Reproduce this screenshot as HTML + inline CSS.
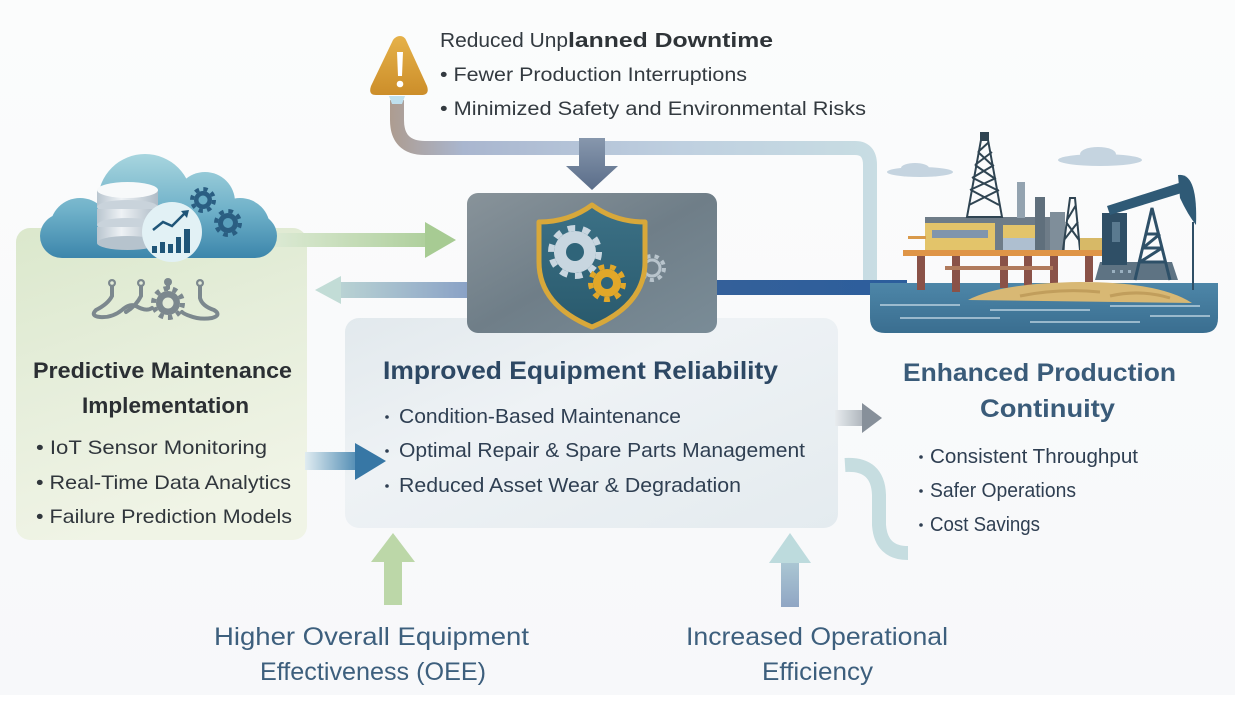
<!DOCTYPE html>
<html><head><meta charset="utf-8"><style>
html,body{margin:0;padding:0;background:#fafbfc;}
svg{display:block;}
text{font-family:"Liberation Sans",sans-serif;}
</style></head><body>
<svg width="1235" height="708" viewBox="0 0 1235 708" xmlns="http://www.w3.org/2000/svg">
<defs>
<linearGradient id="bg" x1="0" y1="0" x2="0" y2="1"><stop offset="0" stop-color="#fbfcfc"/><stop offset="1" stop-color="#f7f8fa"/></linearGradient>
<linearGradient id="green" x1="0" y1="0" x2="0.3" y2="1"><stop offset="0" stop-color="#dbe8cc"/><stop offset="0.5" stop-color="#e6eedb"/><stop offset="1" stop-color="#f0f4e6"/></linearGradient>
<linearGradient id="cloud" x1="0" y1="150" x2="0" y2="260" gradientUnits="userSpaceOnUse"><stop offset="0" stop-color="#acd8e0"/><stop offset="0.55" stop-color="#6fb1c9"/><stop offset="1" stop-color="#3a84aa"/></linearGradient>
<linearGradient id="mid" x1="0" y1="0" x2="1" y2="1"><stop offset="0" stop-color="#e2e9ed"/><stop offset="0.4" stop-color="#eef2f5"/><stop offset="1" stop-color="#e4ebef"/></linearGradient>
<linearGradient id="grayb" x1="0" y1="0" x2="1" y2="1"><stop offset="0" stop-color="#88939a"/><stop offset="0.5" stop-color="#6f7e88"/><stop offset="1" stop-color="#7a8c97"/></linearGradient>
<linearGradient id="shield" x1="0" y1="0" x2="0" y2="1"><stop offset="0" stop-color="#3c7186"/><stop offset="1" stop-color="#295a6d"/></linearGradient>
<linearGradient id="topc" x1="390" y1="0" x2="880" y2="0" gradientUnits="userSpaceOnUse"><stop offset="0" stop-color="#ad9c90"/><stop offset="0.15" stop-color="#a9b6cf"/><stop offset="0.6" stop-color="#bfd0e0"/><stop offset="1" stop-color="#c8dde3"/></linearGradient>
<linearGradient id="downa" x1="0" y1="138" x2="0" y2="190" gradientUnits="userSpaceOnUse"><stop offset="0" stop-color="#8797ad"/><stop offset="1" stop-color="#5a6d89"/></linearGradient>
<linearGradient id="garr" x1="275" y1="0" x2="455" y2="0" gradientUnits="userSpaceOnUse"><stop offset="0" stop-color="#dbe9d3"/><stop offset="1" stop-color="#a7cb93"/></linearGradient>
<linearGradient id="larr" x1="315" y1="0" x2="467" y2="0" gradientUnits="userSpaceOnUse"><stop offset="0" stop-color="#c2dcd6"/><stop offset="1" stop-color="#8aa2c6"/></linearGradient>
<linearGradient id="barr" x1="305" y1="0" x2="386" y2="0" gradientUnits="userSpaceOnUse"><stop offset="0" stop-color="#e0ecf1"/><stop offset="0.6" stop-color="#5b93b8"/><stop offset="1" stop-color="#3777a5"/></linearGradient>
<linearGradient id="rarr" x1="835" y1="0" x2="882" y2="0" gradientUnits="userSpaceOnUse"><stop offset="0" stop-color="#e8ecef"/><stop offset="1" stop-color="#87909a"/></linearGradient>
<linearGradient id="dbar" x1="717" y1="0" x2="905" y2="0" gradientUnits="userSpaceOnUse"><stop offset="0" stop-color="#34609a"/><stop offset="1" stop-color="#2c5e9c"/></linearGradient>
<linearGradient id="uparr" x1="0" y1="533" x2="0" y2="607" gradientUnits="userSpaceOnUse"><stop offset="0" stop-color="#bcdcdd"/><stop offset="1" stop-color="#90a6c4"/></linearGradient>
<linearGradient id="water" x1="0" y1="283" x2="0" y2="333" gradientUnits="userSpaceOnUse"><stop offset="0" stop-color="#4d86a8"/><stop offset="1" stop-color="#3a6e90"/></linearGradient>
<linearGradient id="warn" x1="0" y1="35" x2="0" y2="95" gradientUnits="userSpaceOnUse"><stop offset="0" stop-color="#e6b24a"/><stop offset="1" stop-color="#cc8e2a"/></linearGradient>
<linearGradient id="db" x1="0" y1="0" x2="1" y2="0"><stop offset="0" stop-color="#b9c5cf"/><stop offset="0.4" stop-color="#eef2f5"/><stop offset="1" stop-color="#aebbc6"/></linearGradient>
</defs>

<rect width="1235" height="708" fill="url(#bg)"/>
<rect y="695" width="1235" height="13" fill="#ffffff"/>

<!-- top connector -->
<path d="M397,100 L397,120 Q397,148 425,148 L855,148 Q870,148 870,165 L870,280" fill="none" stroke="url(#topc)" stroke-width="14"/>

<!-- warning -->
<path d="M389,96 L405,96 L402,104 L392,104 Z" fill="#bfe0ee"/>
<path d="M400,36 Q404,36 406,40 L427,86 Q430,95 421,95 L376,95 Q368,95 371,86 L393,40 Q396,36 400,36 Z" fill="url(#warn)"/>
<path d="M397,52 L403,52 L402,76 L398,76 Z" fill="#fff"/>
<circle cx="400" cy="84" r="3.3" fill="#fff"/>

<!-- top texts -->
<text x="440" y="47" font-size="20" fill="#333a40" textLength="128" lengthAdjust="spacingAndGlyphs">Reduced Unp</text>
<text x="568" y="47" font-size="20" font-weight="bold" fill="#2f3438" textLength="205" lengthAdjust="spacingAndGlyphs">lanned Downtime</text>
<text x="440" y="81" font-size="19" fill="#333a40" textLength="307" lengthAdjust="spacingAndGlyphs">• Fewer Production Interruptions</text>
<text x="440" y="115" font-size="19" fill="#333a40" textLength="426" lengthAdjust="spacingAndGlyphs">• Minimized Safety and Environmental Risks</text>

<!-- down arrow -->
<rect x="579" y="138" width="26" height="30" fill="url(#downa)"/>
<polygon points="566,166 618,166 592,190" fill="url(#downa)"/>

<!-- left green panel -->
<rect x="16" y="228" width="291" height="312" rx="14" fill="url(#green)"/>

<!-- green arrow -->
<rect x="275" y="233" width="152" height="14" fill="url(#garr)"/>
<polygon points="425,222 425,258 456,240" fill="#a7cb93"/>

<!-- left arrow -->
<rect x="338" y="282" width="130" height="16" fill="url(#larr)"/>
<polygon points="341,276 341,304 315,290" fill="#c2dcd6"/>

<!-- dark blue bar -->
<rect x="717" y="280" width="190" height="15" fill="url(#dbar)"/>

<!-- middle box -->
<rect x="345" y="318" width="493" height="210" rx="14" fill="url(#mid)"/>

<!-- gray box -->
<rect x="467" y="193" width="250" height="140" rx="11" fill="url(#grayb)"/>
<!-- faint gear -->
<circle cx="652" cy="268" r="12" fill="none" stroke="#b8c4cc" stroke-width="4" stroke-dasharray="4.2 4.2"/>
<circle cx="652" cy="268" r="8" fill="none" stroke="#b8c4cc" stroke-width="3"/>
<!-- shield -->
<path d="M592,205 Q615,222 645,222 L645,262 Q645,305 592,327 Q539,305 539,262 L539,222 Q569,222 592,205 Z" fill="url(#shield)" stroke="#d8a83a" stroke-width="5" stroke-linejoin="round"/>
<circle cx="575" cy="252" r="24" fill="none" stroke="#c8d6e0" stroke-width="6" stroke-dasharray="7.54 7.54"/>
<circle cx="575" cy="252" r="21" fill="#c8d6e0"/>
<circle cx="575" cy="252" r="9" fill="#2f6479"/>
<circle cx="607" cy="283" r="16.5" fill="none" stroke="#e1a729" stroke-width="5" stroke-dasharray="5.76 5.76"/>
<circle cx="607" cy="283" r="14" fill="#e1a729"/>
<circle cx="607" cy="283" r="6" fill="#2f6479"/>

<!-- blue arrow into middle -->
<rect x="305" y="452" width="52" height="18" fill="url(#barr)"/>
<polygon points="355,443 355,480 386,461" fill="#3777a5"/>

<!-- right gray arrow -->
<rect x="835" y="410" width="30" height="16" fill="url(#rarr)"/>
<polygon points="862,403 862,433 882,418" fill="#87909a"/>

<!-- S curve -->
<path d="M845,465 Q878,463 879,495 L879,525 Q881,553 908,553" fill="none" stroke="#c6dde0" stroke-width="14"/>

<!-- cloud -->
<g fill="url(#cloud)">
<rect x="40" y="214" width="237" height="44" rx="22"/>
<circle cx="80" cy="228" r="30"/>
<circle cx="145" cy="201" r="47"/>
<circle cx="205" cy="202" r="30"/>
<circle cx="240" cy="228" r="30"/>
</g>
<!-- database -->
<g>
<rect x="97" y="190" width="61" height="17" fill="url(#db)"/>
<ellipse cx="127.5" cy="207" rx="30.5" ry="7" fill="#c9d3db"/>
<rect x="97" y="209" width="61" height="16" fill="url(#db)"/>
<ellipse cx="127.5" cy="225" rx="30.5" ry="7" fill="#c9d3db"/>
<rect x="97" y="227" width="61" height="16" fill="url(#db)"/>
<ellipse cx="127.5" cy="243" rx="30.5" ry="7" fill="#b6c3cd"/>
<ellipse cx="127.5" cy="190" rx="30.5" ry="8" fill="#f7f9fa"/>
</g>
<!-- chart circle -->
<circle cx="172" cy="232" r="30" fill="#e2f1f5"/>
<g fill="#1f5578">
<rect x="152" y="246" width="5" height="7"/>
<rect x="160" y="242" width="5" height="11"/>
<rect x="168" y="244" width="5" height="9"/>
<rect x="176" y="237" width="5" height="16"/>
<rect x="184" y="229" width="6" height="24"/>
</g>
<polyline points="153,230 163,222 172,226 184,214" fill="none" stroke="#1f5578" stroke-width="2.5"/>
<polygon points="181,211 189,210 187,218" fill="#1f5578"/>
<!-- cloud gears -->
<circle cx="203" cy="200" r="11" fill="none" stroke="#2a5e82" stroke-width="4" stroke-dasharray="4.32 4.32"/>
<circle cx="203" cy="200" r="9" fill="#2a5e82"/>
<circle cx="203" cy="200" r="4.5" fill="#6aaec6"/>
<circle cx="228" cy="223" r="12" fill="none" stroke="#2a5e82" stroke-width="4" stroke-dasharray="4.71 4.71"/>
<circle cx="228" cy="223" r="10" fill="#2a5e82"/>
<circle cx="228" cy="223" r="5" fill="#5aa0bd"/>

<!-- gray circuit icon -->
<g fill="none" stroke="#7c888e" stroke-width="4" stroke-linecap="round">
<path d="M112,284 L112,296 Q108,304 96,310 Q90,316 100,317 Q112,318 122,310 Q130,303 136,306"/>
<path d="M141,284 L141,296 Q136,306 126,312"/>
<path d="M136,306 Q146,312 152,308"/>
<path d="M168,282 L168,288"/>
<path d="M200,284 L200,298 Q202,306 214,310 Q222,315 212,318 Q200,320 190,316 Q184,314 182,312"/>
</g>
<g fill="#7c888e">
<circle cx="112" cy="283" r="4"/><circle cx="141" cy="283" r="4"/><circle cx="200" cy="283" r="4"/><circle cx="168" cy="282" r="4"/>
</g>
<circle cx="112" cy="283" r="1.8" fill="#e3ebd8"/><circle cx="141" cy="283" r="1.8" fill="#e3ebd8"/><circle cx="200" cy="283" r="1.8" fill="#e3ebd8"/>
<circle cx="168" cy="303" r="14.5" fill="none" stroke="#7c888e" stroke-width="5" stroke-dasharray="4.56 4.56"/>
<circle cx="168" cy="303" r="12" fill="#7c888e"/>
<circle cx="168" cy="303" r="5.5" fill="#e3ebd8"/>

<!-- left texts -->
<text x="33" y="378" font-size="22" font-weight="bold" fill="#2b2f33" textLength="259" lengthAdjust="spacingAndGlyphs">Predictive Maintenance</text>
<text x="82" y="413" font-size="22" font-weight="bold" fill="#2b2f33" textLength="167" lengthAdjust="spacingAndGlyphs">Implementation</text>
<text x="36" y="454" font-size="19.5" fill="#30363c" textLength="231" lengthAdjust="spacingAndGlyphs">• IoT Sensor Monitoring</text>
<text x="36" y="489" font-size="19.5" fill="#30363c" textLength="255" lengthAdjust="spacingAndGlyphs">• Real-Time Data Analytics</text>
<text x="36" y="523" font-size="19.5" fill="#30363c" textLength="256" lengthAdjust="spacingAndGlyphs">• Failure Prediction Models</text>

<!-- middle texts -->
<text x="383" y="379" font-size="25" font-weight="bold" fill="#2d4864" textLength="395" lengthAdjust="spacingAndGlyphs">Improved Equipment Reliability</text>
<circle cx="387" cy="417" r="1.8" fill="#2f3f52"/>
<circle cx="387" cy="451" r="1.8" fill="#2f3f52"/>
<circle cx="387" cy="486" r="1.8" fill="#2f3f52"/>
<text x="399" y="423" font-size="20" fill="#2f3f52" textLength="282" lengthAdjust="spacingAndGlyphs">Condition-Based Maintenance</text>
<text x="399" y="457" font-size="20" fill="#2f3f52" textLength="406" lengthAdjust="spacingAndGlyphs">Optimal Repair &amp; Spare Parts Management</text>
<text x="399" y="492" font-size="20" fill="#2f3f52" textLength="342" lengthAdjust="spacingAndGlyphs">Reduced Asset Wear &amp; Degradation</text>

<!-- platform illustration -->
<g>
<ellipse cx="920" cy="172" rx="33" ry="5" fill="#c5d4e0"/>
<ellipse cx="915" cy="168" rx="14" ry="5" fill="#c5d4e0"/>
<ellipse cx="1100" cy="160" rx="42" ry="6" fill="#c5d4e0"/>
<ellipse cx="1098" cy="154" rx="18" ry="7" fill="#c5d4e0"/>
<!-- water -->
<path d="M870,283 H1218 V318 Q1218,333 1203,333 H885 Q870,333 870,318 Z" fill="url(#water)"/>
<g stroke="#d6e6ef" stroke-width="1.5" opacity="0.8">
<line x1="880" y1="305" x2="960" y2="305"/><line x1="990" y1="310" x2="1090" y2="310"/>
<line x1="900" y1="318" x2="1000" y2="318"/><line x1="1030" y1="322" x2="1140" y2="322"/>
<line x1="1110" y1="306" x2="1200" y2="306"/><line x1="1150" y1="316" x2="1210" y2="316"/>
</g>
<!-- back buildings -->
<rect x="925" y="217" width="125" height="33" fill="#6e7c88"/>
<rect x="1017" y="182" width="8" height="36" fill="#93a3b0"/>
<rect x="1035" y="197" width="10" height="53" fill="#5f6f7c"/>
<rect x="1050" y="212" width="15" height="38" fill="#7f8e9a"/>
<!-- derrick -->
<g fill="none" stroke="#2f4452" stroke-width="2">
<polygon points="967,217 1002,217 988,140 981,140"/>
<path d="M969,205 L999,190 M970,190 L996,178 M972,178 L994,165 M975,165 L992,152 M978,152 L989,142 M999,205 L971,190 M997,190 L973,178 M994,178 L975,165 M992,165 L978,152"/>
<path d="M1063,250 L1070,198 L1075,198 L1080,250 M1064,240 L1078,222 M1079,240 L1066,222 M1067,220 L1076,205"/>
</g>
<rect x="980" y="132" width="9" height="8" fill="#2f4452"/>
<!-- front decks -->
<rect x="925" y="223" width="70" height="27" fill="#e3c46a"/>
<rect x="932" y="230" width="56" height="8" fill="#7f95ad"/>
<rect x="1003" y="225" width="32" height="25" fill="#e3c46a"/>
<rect x="1003" y="238" width="32" height="12" fill="#aebfd0"/>
<rect x="1080" y="238" width="22" height="12" fill="#d7b967"/>
<rect x="908" y="236" width="18" height="3" fill="#d99a4a"/>
<!-- deck -->
<rect x="903" y="250" width="199" height="6" fill="#df9547"/>
<g fill="#8a5248">
<rect x="917" y="256" width="8" height="34"/><rect x="952" y="256" width="8" height="36"/>
<rect x="1000" y="256" width="8" height="32"/><rect x="1024" y="256" width="8" height="30"/>
<rect x="1050" y="256" width="8" height="28"/><rect x="1085" y="256" width="8" height="26"/>
</g>
<rect x="945" y="266" width="108" height="4" fill="#b07a5c"/>
<!-- sand -->
<path d="M968,300 Q1000,283 1080,282 Q1160,282 1192,303 Z" fill="#d8b874"/>
<path d="M1020,296 Q1060,288 1100,292 M1110,296 Q1140,289 1170,298" stroke="#c19e5c" stroke-width="3" fill="none"/>
<!-- pumpjack -->
<path d="M1095,280 L1100,262 L1172,262 L1178,280 Z" fill="#5e7383"/>
<rect x="1102" y="213" width="25" height="52" fill="#2f4f66"/>
<rect x="1112" y="222" width="8" height="20" fill="#5a7a90"/>
<g fill="none" stroke="#2e5068" stroke-width="3">
<path d="M1135,280 L1152,208 L1170,280 M1140,262 L1165,262 M1143,248 L1162,248 M1146,234 L1158,234 M1140,262 L1162,248 M1143,248 L1160,234"/>
</g>
<path d="M1107,206 L1182,182 L1185,192 L1110,215 Z" fill="#2f5a76"/>
<path d="M1178,175 Q1198,172 1196,225 Q1188,215 1180,198 Z" fill="#2f5a76"/>
<line x1="1193" y1="222" x2="1193" y2="290" stroke="#2f4f66" stroke-width="2"/>
<g fill="#9ab0c0"><rect x="1112" y="270" width="3" height="3"/><rect x="1120" y="270" width="3" height="3"/><rect x="1128" y="270" width="3" height="3"/></g>
</g>

<!-- right texts -->
<text x="903" y="381" font-size="25" font-weight="bold" fill="#3a5b79" textLength="273" lengthAdjust="spacingAndGlyphs">Enhanced Production</text>
<text x="980" y="417" font-size="25" font-weight="bold" fill="#3a5b79" textLength="135" lengthAdjust="spacingAndGlyphs">Continuity</text>
<circle cx="921" cy="457" r="1.8" fill="#2f3f52"/>
<circle cx="921" cy="491" r="1.8" fill="#2f3f52"/>
<circle cx="921" cy="525" r="1.8" fill="#2f3f52"/>
<text x="930" y="463" font-size="20" fill="#2f3f52" textLength="208" lengthAdjust="spacingAndGlyphs">Consistent Throughput</text>
<text x="930" y="497" font-size="20" fill="#2f3f52" textLength="146" lengthAdjust="spacingAndGlyphs">Safer Operations</text>
<text x="930" y="531" font-size="20" fill="#2f3f52" textLength="110" lengthAdjust="spacingAndGlyphs">Cost Savings</text>

<!-- bottom arrows -->
<rect x="384" y="560" width="18" height="45" fill="#bcd7a8"/>
<polygon points="371,562 415,562 393,533" fill="#bcd7a8"/>
<rect x="781" y="560" width="18" height="47" fill="url(#uparr)"/>
<polygon points="769,563 811,563 790,533" fill="#bddbdd"/>

<!-- bottom texts -->
<text x="214" y="645" font-size="25" fill="#3d5f7d" textLength="315" lengthAdjust="spacingAndGlyphs">Higher Overall Equipment</text>
<text x="260" y="680" font-size="25" fill="#3d5f7d" textLength="226" lengthAdjust="spacingAndGlyphs">Effectiveness (OEE)</text>
<text x="686" y="645" font-size="25" fill="#3d5f7d" textLength="262" lengthAdjust="spacingAndGlyphs">Increased Operational</text>
<text x="762" y="680" font-size="25" fill="#3d5f7d" textLength="111" lengthAdjust="spacingAndGlyphs">Efficiency</text>
</svg>
</body></html>
